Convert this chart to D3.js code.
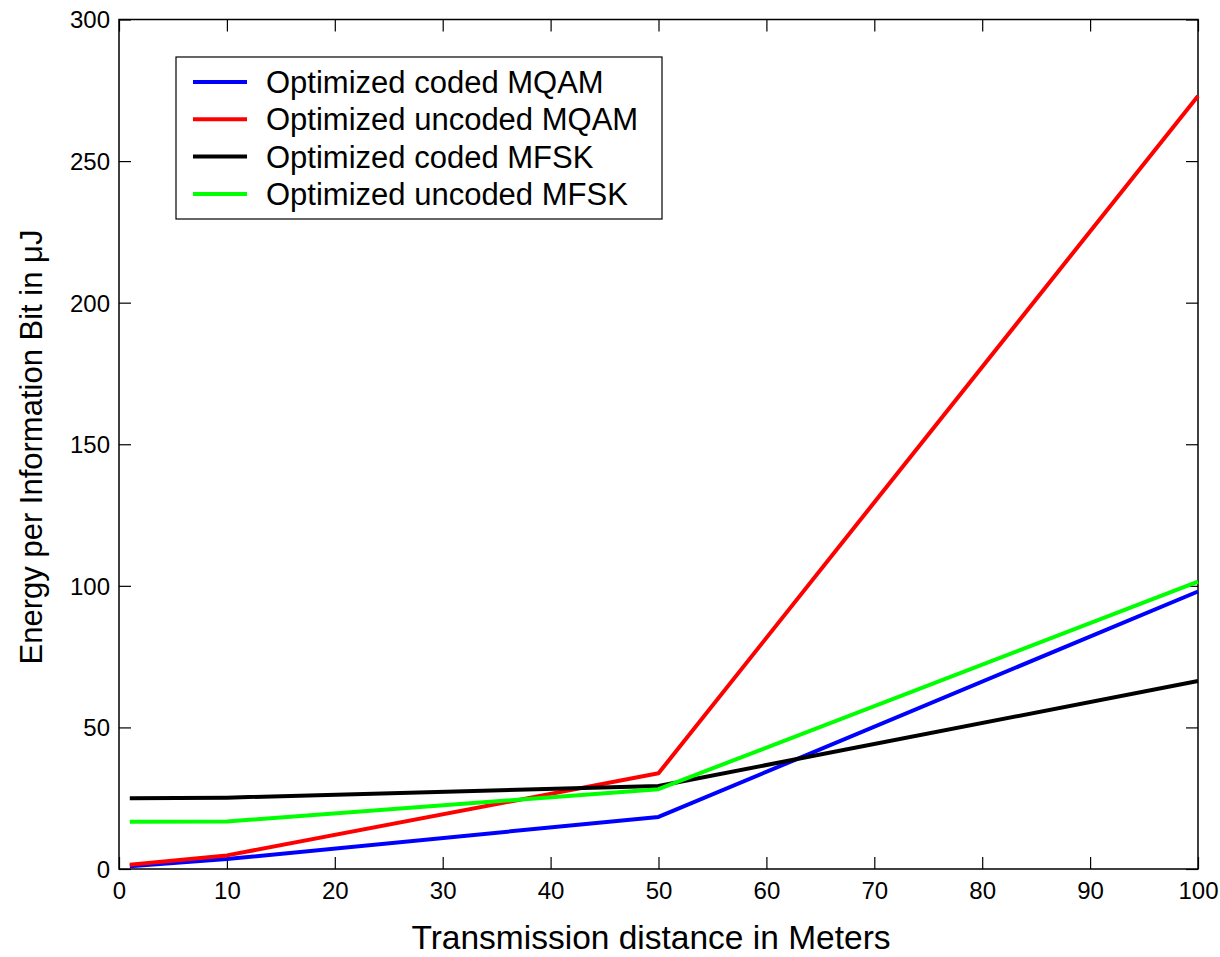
<!DOCTYPE html>
<html>
<head>
<meta charset="utf-8">
<script src="https://cdn.jsdelivr.net/npm/d3@7"></script>
<style>
  body { margin: 0; background: #fff; }
  svg { display: block; font-family: "Liberation Sans", Arial, sans-serif; }
</style>
</head>
<body>
<div id="chart"></div>
<script>
// distances (m)
const distances = [1, 10, 50, 100];

// energy per information bit (uJ)
const codedMQAM = [1.0, 3.5, 18.4, 98];
const uncodedMQAM = [1.5, 4.8, 33.8, 273];
const codedMFSK = [25, 25.2, 29.3, 66.4];
const uncodedMFSK = [16.7, 16.8, 28.2, 101.5];

const seriesNames = ["Optimized coded MQAM", "Optimized uncoded MQAM", "Optimized coded MFSK", "Optimized uncoded MFSK"];
const seriesColors = ["#0000ff", "#ff0000", "#000000", "#00ff00"];

const xTicks = [0, 10, 20, 30, 40, 50, 60, 70, 80, 90, 100];
const yTicks = [0, 50, 100, 150, 200, 250, 300];

const series = [codedMQAM, uncodedMQAM, codedMFSK, uncodedMFSK];

// set up the svg
const W = 1220, H = 957;
const margin = {top: 19.5, right: 22, bottom: 88, left: 119};
const width = W - margin.left - margin.right,
      height = H - margin.top - margin.bottom;

const svg = d3.select("#chart")
    .append("svg")
    .attr("width", W)
    .attr("height", H);

const g = svg.append("g")
    .attr("transform", `translate(${margin.left},${margin.top})`);

const x = d3.scaleLinear().domain([0, 100]).range([0, width]);
const y = d3.scaleLinear().domain([0, 300]).range([height, 0]);

const tickLen = 12;

// bottom axis (ticks inside)
g.append("g")
    .attr("class", "xaxis")
    .attr("transform", `translate(0,${height})`)
    .call(d3.axisBottom(x).tickValues(xTicks).tickSize(-tickLen));
// top ticks
g.append("g")
    .call(d3.axisTop(x).tickValues(xTicks).tickSize(-tickLen).tickFormat(""));
// left axis
g.append("g")
    .attr("class", "yaxis")
    .call(d3.axisLeft(y).tickValues(yTicks).tickSize(-tickLen));
// right ticks
g.append("g")
    .attr("transform", `translate(${width},0)`)
    .call(d3.axisRight(y).tickValues(yTicks).tickSize(-tickLen).tickFormat(""));

g.selectAll(".domain").remove();
g.selectAll(".tick line").attr("stroke", "#000").attr("stroke-width", 1.2);
g.selectAll(".tick text").attr("fill", "#000").style("font-size", "24px");
g.selectAll(".xaxis .tick text").attr("y", 30).attr("dy", null);
g.selectAll(".yaxis .tick text").attr("x", -9).attr("dy", "0.35em");

// box
g.append("rect")
    .attr("width", width)
    .attr("height", height)
    .attr("fill", "none")
    .attr("stroke", "#000")
    .attr("stroke-width", 1.5);

// lines
const line = d3.line()
    .x((d, i) => x(distances[i]))
    .y(d => y(d));

series.forEach((s, i) => {
    g.append("path")
        .datum(s)
        .attr("fill", "none")
        .attr("stroke", seriesColors[i])
        .attr("stroke-width", 4)
        .attr("stroke-linejoin", "round")
        .attr("d", line);
});

// legend
const legend = svg.append("g").attr("transform", "translate(176,57)");
legend.append("rect")
    .attr("width", 486)
    .attr("height", 162)
    .attr("fill", "#fff")
    .attr("stroke", "#000")
    .attr("stroke-width", 1.2);

seriesNames.forEach((name, i) => {
    const cy = 25 + i * 37.3;
    legend.append("line")
        .attr("x1", 17).attr("x2", 71)
        .attr("y1", cy).attr("y2", cy)
        .attr("stroke", seriesColors[i])
        .attr("stroke-width", 4);
    legend.append("text")
        .attr("x", 90)
        .attr("y", cy + 11)
        .style("font-size", "31px")
        .text(name);
});

// axis labels
svg.append("text")
    .attr("x", 651)
    .attr("y", 949)
    .attr("text-anchor", "middle")
    .style("font-size", "33.5px")
    .text("Transmission distance in Meters");

svg.append("text")
    .attr("transform", `translate(42,447) rotate(-90)`)
    .attr("text-anchor", "middle")
    .style("font-size", "31px")
    .text("Energy per Information Bit in \u03bcJ");
</script>
</body>
</html>
